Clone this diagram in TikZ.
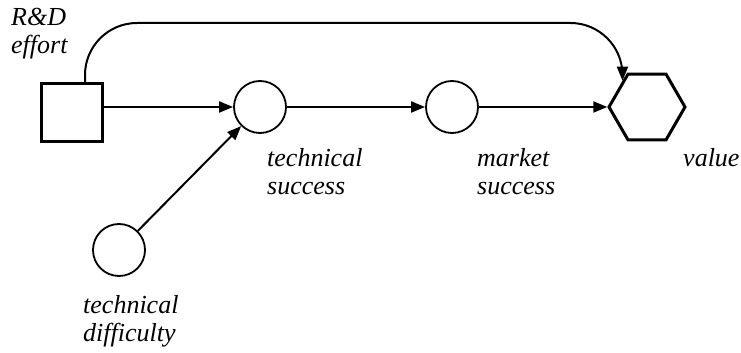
\documentclass[tikz,border=0pt]{standalone}
\usepackage{fontspec}
\setmainfont{Liberation Serif}
\usetikzlibrary{arrows.meta,shapes.geometric,calc}
\begin{document}
\begin{tikzpicture}[x=1pt,y=1pt,
  chance/.style={draw,circle,line width=1.8pt,minimum size=52pt,inner sep=0pt},
  decision/.style={draw,rectangle,line width=3pt,minimum width=61pt,minimum height=58pt,inner sep=0pt},
  valnode/.style={draw,regular polygon,regular polygon sides=6,line width=3pt,minimum size=76pt,inner sep=0pt},
  lbl/.style={inner sep=0pt,anchor=base west,align=left,font=\itshape\fontsize{26}{28}\selectfont},
  conn/.style={line width=2pt,-{Triangle[length=14pt,width=11pt]}}
]
\useasboundingbox (0,0) rectangle (741,353);
\node[decision] (sq) at (72,240.5) {};
\node[chance] (tech) at (260,246) {};
\node[chance] (ms) at (452,246) {};
\node[chance] (diff) at (119,103) {};
\node[valnode] (val) at (647,246) {};
\coordinate (toprow) at (0,330);
\node[lbl] (lrd) at (11,299) {R\&D\\effort};
\node[lbl] (lts) at (267,158) {technical\\success};
\node[lbl] (lms) at (477,158) {market\\success};
\node[lbl] (lv) at (683,186) {value};
\node[lbl] (ltd) at (83,11) {technical\\difficulty};
\draw[conn] (sq.east |- tech.west) -- (tech.west);
\draw[conn] (tech) -- (ms);
\draw[conn] (ms) -- (val);
\draw[conn] (diff) -- (tech);
\draw[conn,rounded corners=52pt] ([xshift=13pt]sq.north) |- (val.133 |- toprow) -- (val.133);
\end{tikzpicture}
\end{document}
